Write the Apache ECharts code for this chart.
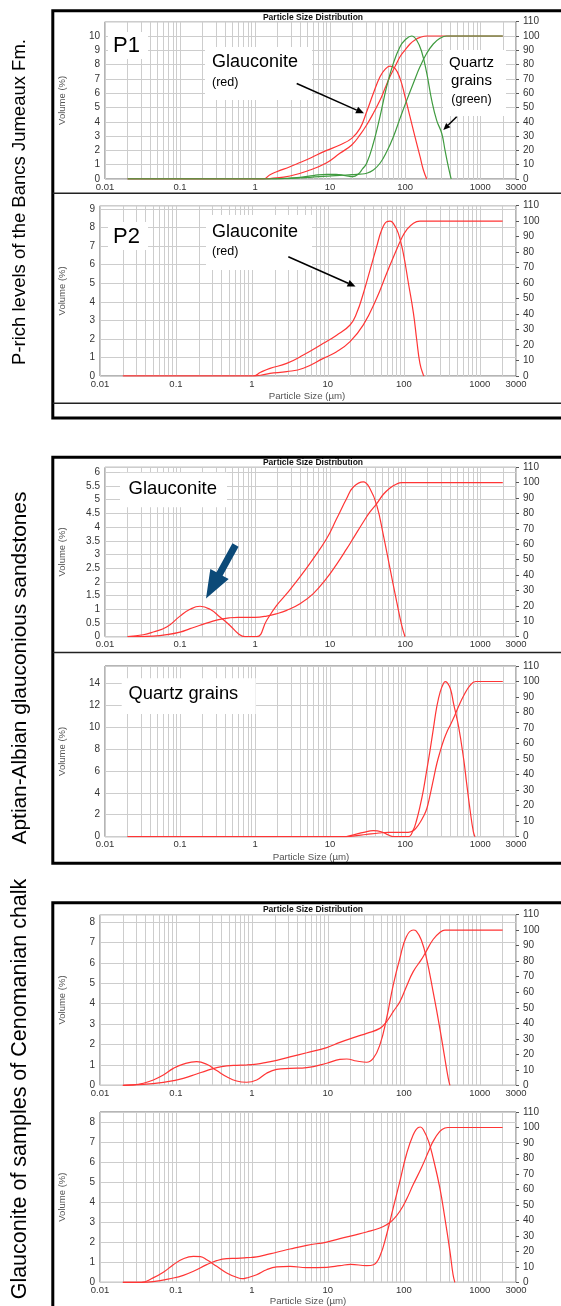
<!DOCTYPE html>
<html><head><meta charset="utf-8">
<script src="https://cdn.jsdelivr.net/npm/echarts@6.0.0/dist/echarts.min.js"></script>
<style>html,body{margin:0;padding:0;background:#fff}#c{width:561px;height:1306px}</style>
</head><body><div id="c"></div>
<script>
// ---------------- DATA (particle size in µm, value) ----------------
const sizeTickLabels = [0.01, 0.1, 1, 10, 100, 1000, 3000];
const cumTicks = [0,10,20,30,40,50,60,70,80,90,100,110];

// Panel P1 (Bancs Jumeaux) - glauconite (red) & quartz (green)
const p1GlauFreq = [[0.02,0],[1.29,0],[1.58,0.3],[1.94,0.51],[2.92,0.86],[3.97,1.15],[5.39,1.45],[6.6,1.68],[9.0,2.0],[13.5,2.38],[19.4,2.84],[25.0,3.54],[30.7,4.7],[37.7,6.0],[46.2,7.15],[53.9,7.67],[62.8,7.9],[73.3,7.74],[85.4,7.04],[99.6,5.76],[116,4.36],[135,2.96],[158,1.56],[175,0.63],[194,0]];
const p1GlauCum = [[0.02,0],[1.29,0],[1.58,0.3],[2.92,2.1],[5.39,6.3],[9.0,11.4],[13.5,18],[19.4,23.8],[25.0,30.8],[30.7,37.8],[37.7,46],[46.2,55],[53.9,63.4],[62.8,71.6],[73.3,78.6],[85.4,85.5],[99.6,90.2],[116,94.4],[135,97.2],[158,99],[194,100],[2000,100]];
const p1QuartzFreq = [[0.02,0],[1.58,0],[2.5,0.04],[4,0.12],[6,0.24],[9,0.33],[12,0.33],[16,0.24],[20,0.17],[23.8,0.35],[27,0.7],[30.7,1.1],[37.7,2.5],[46.2,4.36],[56.7,6.46],[69.7,8.1],[85.4,9.25],[99.6,9.72],[122,10],[142,9.72],[166,8.9],[194,7.4],[226,5.5],[263,4.1],[307,3.2],[340,2.0],[376,0.86],[410,0]];
const p1QuartzCum = [[0.02,0],[1.58,0],[3,0.5],[5.39,1.2],[9,2],[13.5,2.6],[19.4,3],[25,3.4],[30.7,4],[37.7,6.3],[46.2,11],[56.7,19],[69.7,29.6],[85.4,42.4],[104.8,55],[128.6,67],[158,78.6],[194,87.9],[237,94.4],[291,98.4],[357,100],[2000,100]];

// Panel P2
const p2GlauFreq = [[0.02,0],[1.04,0],[1.3,0.2],[1.73,0.41],[2.87,0.68],[4.75,1.13],[8.72,1.76],[13.06,2.2],[19.6,2.75],[23.9,3.38],[29.3,4.45],[35.9,5.71],[43.9,6.97],[51.1,7.87],[59.5,8.32],[65.8,8.35],[72.8,8.23],[84.7,7.69],[98.6,6.6],[115,5.0],[134,3.38],[148,1.94],[163,0.68],[181,0.05],[186,0]];
const p2GlauCum = [[0.02,0],[1.04,0],[1.3,0.5],[1.73,1.7],[2.87,2.8],[4.75,5],[8.72,11.4],[13.06,15.7],[19.6,22.2],[29.3,33],[43.9,50.2],[59.5,66.4],[76.6,79.3],[93.7,89],[109,94.4],[134,98.7],[163,100],[2000,100]];

// Aptian-Albian: glauconite
const p3GlauFreq = [[0.02,0],[0.0324,0.07],[0.044,0.17],[0.0663,0.35],[0.0999,0.75],[0.136,1.0],[0.1846,1.11],[0.251,1.0],[0.34,0.72],[0.463,0.41],[0.598,0.11],[0.733,0],[1.05,0],[1.43,0.6],[1.94,1.14],[2.64,1.57],[3.97,2.18],[5.97,2.85],[9.0,3.58],[12.2,4.3],[16.6,5.04],[20.4,5.46],[27.7,5.65],[34,5.4],[41.8,4.8],[51.3,3.7],[62.9,2.48],[77.2,1.27],[90,0.41],[99.6,0]];
const p3GlauCum = [[0.02,0],[0.044,0.4],[0.0663,1.3],[0.0999,3],[0.136,5.2],[0.1846,7.4],[0.251,9.5],[0.34,11.3],[0.463,12.3],[0.598,12.6],[1.0,12.6],[1.43,13.4],[1.94,14.9],[2.64,17.1],[3.97,21.4],[5.97,28],[9.0,38],[12.2,47],[16.6,57],[20.4,64],[27.7,74.5],[34,81],[41.8,86.4],[51.3,92.5],[62.9,96.6],[77.2,99.2],[90,100],[2000,100]];

// Aptian-Albian: quartz grains
const p4QuartzFreq = [[0.02,0],[15,0],[20,0.15],[28,0.4],[37.7,0.55],[48,0.45],[60,0.15],[69.5,0],[110,0],[128,0.6],[142,1.5],[157,2.7],[175,4.25],[194,6.07],[215,7.9],[238,9.87],[264,11.84],[293,13.2],[325,13.97],[342,14.12],[360,14.06],[400,13.5],[441,12.15],[516,10.0],[604,7.0],[660,4.86],[733,2.43],[810,0.46],[853,0]];
const p4QuartzCum = [[0.02,0],[15,0],[20,0.4],[30,1.4],[45,2.4],[60,2.8],[110,2.8],[128,3.8],[142,6],[157,9],[175,13],[194,18],[215,27],[238,37],[264,47],[293,55],[325,62],[360,67.5],[400,72],[461,78.5],[516,84],[604,91],[733,97.5],[870,100],[2000,100]];

// Cenomanian chalk: sample 1
const p5GlauFreq = [[0.02,0],[0.0275,0.02],[0.0372,0.1],[0.0504,0.26],[0.0682,0.5],[0.0924,0.83],[0.125,1.04],[0.187,1.16],[0.254,1.03],[0.344,0.72],[0.466,0.42],[0.63,0.21],[0.853,0.15],[1.155,0.26],[1.56,0.59],[2.12,0.78],[3.17,0.83],[5.27,0.87],[9.66,1.08],[14.4,1.27],[17.7,1.29],[23.9,1.19],[32.4,1.13],[39.6,1.32],[48.4,1.98],[59.3,3.28],[72.5,4.91],[88.7,6.22],[108,7.28],[133,7.61],[146,7.56],[170,7.12],[199,6.22],[243,4.59],[298,2.79],[347,1.32],[385,0.34],[405,0]];
const p5GlauCum = [[0.02,0],[0.0372,0.6],[0.0682,1.9],[0.0924,3],[0.125,4.5],[0.187,7.3],[0.254,9.5],[0.344,11.4],[0.466,12.5],[0.63,12.9],[0.853,13.1],[1.155,13.7],[1.56,14.8],[2.12,16.1],[3.17,18.3],[5.27,21],[9.66,24.3],[14.4,27.7],[23.9,31.4],[32.4,33.5],[48.4,36.7],[59.3,41],[72.5,47.5],[88.7,53.9],[108,63.6],[133,73.3],[170,81],[190,85],[243,94],[298,98.5],[347,100],[2000,100]];

// Cenomanian chalk: sample 2
const p6GlauFreq = [[0.02,0],[0.035,0],[0.05,0.22],[0.0682,0.5],[0.0924,0.88],[0.125,1.18],[0.17,1.3],[0.21,1.28],[0.254,1.13],[0.344,0.8],[0.466,0.47],[0.63,0.25],[0.75,0.18],[0.853,0.22],[1.155,0.38],[1.56,0.63],[2.12,0.77],[3.17,0.8],[5.27,0.73],[9.66,0.75],[14.4,0.83],[20,0.9],[32.4,0.83],[40,0.88],[48.4,1.3],[59.3,2.38],[72.5,3.72],[88.7,5.05],[108,6.38],[133,7.38],[155,7.75],[165,7.77],[181,7.63],[212,7.05],[243,6.22],[298,4.72],[347,3.22],[405,1.55],[445,0.38],[470,0]];
const p6GlauCum = [[0.02,0],[0.035,0],[0.05,0.4],[0.0924,2.8],[0.125,4.5],[0.17,7.1],[0.254,11.4],[0.344,14],[0.466,15.3],[0.63,15.5],[0.853,15.9],[1.155,16.4],[1.56,17.9],[2.12,19.4],[3.17,21.5],[5.27,23.9],[9.66,26],[14.4,28.2],[23.9,30.8],[32.4,32.5],[48.4,35.1],[59.3,37.2],[72.5,40.5],[88.7,45.9],[108,53.4],[133,63.1],[170,73.8],[212,84.6],[243,91],[298,97.5],[347,99.7],[380,100],[2000,100]];

// left-axis ranges (Volume %)
const volMax  = [11, 9.18, 6.18, 15.55, 8.36, 8.52];
const volStep = [1, 1, 0.5, 2, 1, 1];

// ---------------- LAYOUT / STYLE ----------------
const FF = '"Liberation Sans", Arial, Helvetica, sans-serif';
const RED = '#ff3535', GREEN = '#3f9b3f', GRIDC = '#cdcdcd';
const layout = [
  {left:105, top:21.7,  width:411, height:157.3},
  {left:100, top:205.7, width:416, height:170.3},
  {left:105, top:467.3, width:411, height:169.4},
  {left:105, top:666,   width:411, height:170.7},
  {left:100, top:914.7, width:416, height:170.6},
  {left:100, top:1112,  width:416, height:170.3}
];
const panelSeries = [
  [[p1GlauFreq,0,RED],[p1GlauCum,1,RED],[p1QuartzFreq,0,GREEN],[p1QuartzCum,1,GREEN]],
  [[p2GlauFreq,0,RED],[p2GlauCum,1,RED]],
  [[p3GlauFreq,0,RED],[p3GlauCum,1,RED]],
  [[p4QuartzFreq,0,RED],[p4QuartzCum,1,RED]],
  [[p5GlauFreq,0,RED],[p5GlauCum,1,RED]],
  [[p6GlauFreq,0,RED],[p6GlauCum,1,RED]]
];

// log-grid minor lines (2..9 per decade)
const minorSizes = [];
for (let k = -2; k <= 3; k++) for (let m = 2; m <= 9; m++) {
  const v = +(m * Math.pow(10, k)).toPrecision(3);
  if (v < 3000) minorSizes.push(v);
}

const grids = [], xAxes = [], yAxes = [], series = [];
layout.forEach((g, i) => {
  grids.push({left:g.left, top:g.top, width:g.width, height:g.height, show:true,
    borderColor:'#6a6a6a', borderWidth:1, backgroundColor:'transparent', containLabel:false, outerBoundsMode:'none'});
  xAxes.push({type:'log', logBase:10, gridIndex:i, min:sizeTickLabels[0], max:sizeTickLabels[sizeTickLabels.length-1],
    axisLine:{show:false}, axisTick:{show:false},
    splitLine:{show:true, lineStyle:{color:GRIDC, width:1}},
    axisLabel:{fontSize:9.5, color:'#333', margin:3, fontFamily:FF,
      formatter: v => String(parseFloat(Number(v).toPrecision(6)))}});
  yAxes.push({type:'value', gridIndex:i, position:'left', min:0, max:volMax[i], interval:volStep[i],
    axisLine:{show:false}, axisTick:{show:false},
    splitLine:{show:true, lineStyle:{color:GRIDC, width:1}},
    axisLabel:{fontSize:10, color:'#333', margin:5, fontFamily:FF, showMaxLabel:false}});
  yAxes.push({type:'value', gridIndex:i, position:'right', min:cumTicks[0], max:cumTicks[cumTicks.length-1], interval:10,
    axisLine:{show:false}, axisTick:{show:true, length:3, lineStyle:{color:'#555'}},
    splitLine:{show:false},
    axisLabel:{fontSize:10, color:'#333', margin:7, fontFamily:FF}});
  panelSeries[i].forEach((s, j) => {
    const ser = {type:'line', xAxisIndex:i, yAxisIndex:2*i + s[1], data:s[0],
      showSymbol:false, symbol:'none', smooth:0.45, z:4,
      lineStyle:{color:s[2], width:1.2}, itemStyle:{color:s[2]}, silent:true, animation:false};
    if (j === 0) {
      ser.markLine = {silent:true, symbol:['none','none'], label:{show:false}, z:1, animation:false,
        lineStyle:{color:GRIDC, width:1, type:'solid'}, emphasis:{disabled:true},
        data: minorSizes.map(v => ({xAxis:v}))};
    }
    series.push(ser);
  });
});

// ---------------- GRAPHIC ANNOTATIONS ----------------
const G = [];
function txt(x, y, text, size, extra) {
  G.push({type:'text', x:x, y:y, z:10, rotation:(extra && extra.rot) || 0,
    style:Object.assign({text:text, fontSize:size, fontFamily:FF, fill:'#000', align:'left', verticalAlign:'middle'},
      extra && extra.style)});
}
function box(x, y, w, h) { G.push({type:'rect', z:3, shape:{x:x, y:y, width:w, height:h}, style:{fill:'#fff'}}); }
function arrow(x1, y1, x2, y2, hl, hw, color, lw) {
  const dx = x2-x1, dy = y2-y1, L = Math.hypot(dx, dy), ux = dx/L, uy = dy/L;
  const bx = x2-ux*hl, by = y2-uy*hl, px = -uy, py = ux;
  G.push({type:'line', z:15, shape:{x1:x1, y1:y1, x2:bx, y2:by}, style:{stroke:color, lineWidth:lw}});
  G.push({type:'polygon', z:15, shape:{points:[[x2,y2],[bx+px*hw/2,by+py*hw/2],[bx-px*hw/2,by-py*hw/2]]}, style:{fill:color}});
}
function fatArrow(x1, y1, x2, y2, sw, hl, hw, color) {
  const dx = x2-x1, dy = y2-y1, L = Math.hypot(dx, dy), ux = dx/L, uy = dy/L;
  const bx = x2-ux*hl, by = y2-uy*hl, px = -uy, py = ux;
  G.push({type:'polygon', z:15, shape:{points:[
    [x1+px*sw/2, y1+py*sw/2],[bx+px*sw/2, by+py*sw/2],[bx+px*hw/2, by+py*hw/2],[x2,y2],
    [bx-px*hw/2, by-py*hw/2],[bx-px*sw/2, by-py*sw/2],[x1-px*sw/2, y1-py*sw/2]]}, style:{fill:color}});
}

// chart titles
[[17.3],[462.3],[910]].forEach(t => txt(313, t[0], 'Particle Size Distribution', 8.5,
  {style:{fontWeight:'bold', align:'center', fill:'#111'}}));
// y-axis names
layout.forEach(g => txt(62, g.top + g.height/2, 'Volume (%)', 9.5,
  {rot:Math.PI/2, style:{align:'center', fill:'#555'}}));
// x-axis names
[[307,396.7],[311,857.8],[308,1301.5]].forEach(p => txt(p[0], p[1], 'Particle Size (µm)', 9.7,
  {style:{align:'center', fill:'#555'}}));

// P1
box(108, 32, 40, 27); txt(113, 46, 'P1', 22);
box(205, 47, 107, 53); txt(212, 62.5, 'Glauconite', 18); txt(212, 82.5, '(red)', 12.5);
arrow(296.7, 83.5, 364, 113.3, 8, 7, '#000', 1.5);
box(443, 50, 63, 66);
txt(471.5, 62.5, 'Quartz', 15, {style:{align:'center'}});
txt(471.5, 81, 'grains', 15, {style:{align:'center'}});
txt(471.5, 99.5, '(green)', 12.5, {style:{align:'center'}});
arrow(456.7, 116.7, 443.3, 130, 7, 6, '#000', 1.5);
// P2
box(108, 222, 40, 28); txt(113, 236.5, 'P2', 22);
box(206, 215, 106, 55); txt(212, 232.5, 'Glauconite', 18); txt(212, 252, '(red)', 12.5);
arrow(288.3, 256.7, 355.5, 286.5, 8, 7, '#000', 1.5);
// Aptian-Albian
box(120, 472.7, 107, 34.6); txt(128.5, 488.5, 'Glauconite', 18.5);
fatArrow(235.5, 545, 206, 598.5, 7, 28, 21, '#0c4a78');
box(121.7, 678.3, 134, 35.7); txt(128.5, 693.5, 'Quartz grains', 18.3);

// group labels (rotated)
txt(20, 202, 'P-rich levels of the Bancs Jumeaux Fm.', 18.5, {rot:Math.PI/2, style:{align:'center'}});
txt(20, 668, 'Aptian-Albian glauconious sandstones', 20.8, {rot:Math.PI/2, style:{align:'center'}});
txt(20, 1089, 'Glauconite of samples of Cenomanian chalk', 21.5, {rot:Math.PI/2, style:{align:'center'}});

// frames
[[10.8, 407.2],[457.3, 406],[902.7, 600]].forEach(f =>
  G.push({type:'rect', z:20, shape:{x:52.8, y:f[0], width:600, height:f[1]}, style:{fill:'none', stroke:'#000', lineWidth:3}}));
[193.3, 403.3, 652.5].forEach(y =>
  G.push({type:'line', z:20, shape:{x1:52.8, y1:y, x2:600, y2:y}, style:{stroke:'#222', lineWidth:1.5}}));

const chart = echarts.init(document.getElementById('c'), null, {renderer:'canvas'});
chart.setOption({
  animation:false, backgroundColor:'#fff',
  grid:grids, xAxis:xAxes, yAxis:yAxes, series:series, graphic:{elements:G}
});
</script></body></html>
